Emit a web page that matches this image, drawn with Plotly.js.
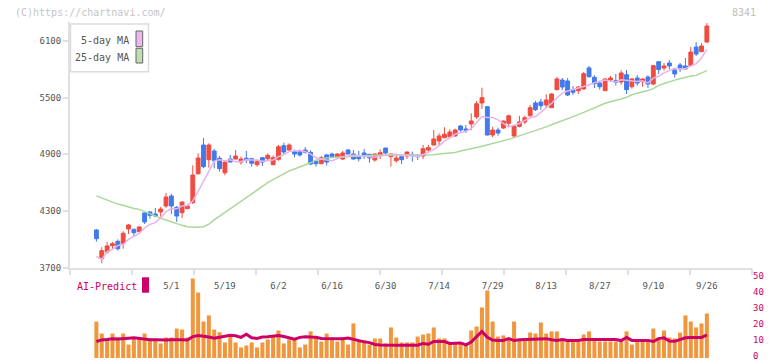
<!DOCTYPE html>
<html><head><meta charset="utf-8">
<script src="https://cdn.plot.ly/plotly-3.0.1.min.js"></script>
<style>html,body{margin:0;padding:0;background:#fff;}#chart{width:772px;height:361px;}</style>
</head><body><div id="chart"></div>
<script>
const dates=['4/10','4/11','4/14','4/15','4/16','4/17','4/18','4/21','4/22','4/23','4/24','4/25','4/28','4/30','5/1','5/2','5/7','5/8','5/9','5/12','5/13','5/14','5/15','5/16','5/19','5/20','5/21','5/22','5/23','5/26','5/27','5/28','5/29','5/30','6/2','6/3','6/4','6/5','6/6','6/9','6/10','6/11','6/12','6/13','6/16','6/17','6/18','6/19','6/20','6/23','6/24','6/25','6/26','6/27','6/30','7/1','7/2','7/3','7/4','7/7','7/8','7/9','7/10','7/11','7/14','7/15','7/16','7/17','7/18','7/22','7/23','7/24','7/25','7/28','7/29','7/30','7/31','8/1','8/4','8/5','8/6','8/7','8/8','8/12','8/13','8/14','8/15','8/18','8/19','8/20','8/21','8/22','8/25','8/26','8/27','8/28','8/29','9/1','9/2','9/3','9/4','9/5','9/8','9/9','9/10','9/11','9/12','9/16','9/17','9/18','9/19','9/22','9/24','9/25','9/26'];
const openP=[4099,3795,3866,3933,3979,3958,4110,4106,4081,4279,4290,4268,4290,4353,4459,4339,4282,4325,4388,4695,4998,4843,4935,4858,4705,4850,4850,4818,4858,4853,4790,4864,4853,4790,4847,4991,4945,4928,4928,4945,4921,4826,4800,4893,4903,4875,4850,4945,4903,4871,4914,4900,4840,4885,4966,4875,4832,4875,4882,4896,4885,4882,4945,4998,5041,5076,5086,5094,5199,5168,5221,5295,5443,5404,5104,5157,5178,5228,5094,5196,5242,5308,5443,5453,5422,5393,5584,5686,5676,5584,5573,5591,5814,5715,5654,5573,5686,5679,5665,5742,5615,5707,5668,5718,5644,5880,5813,5866,5792,5845,5835,5838,6035,5986,6088];
const highP=[4110,3916,3972,3972,4000,4085,4162,4113,4140,4285,4295,4332,4342,4491,4480,4353,4400,4374,4784,4911,5072,5016,4956,4882,4825,4893,4945,4875,4935,4864,4843,4870,4910,4889,4998,5023,5016,4950,4950,4977,4942,4843,4882,4900,4917,4910,4935,4956,4945,4935,4956,4905,4910,4952,4970,4910,4882,4889,4930,4928,4903,4998,4998,5157,5122,5186,5164,5172,5211,5210,5334,5464,5605,5410,5192,5182,5258,5319,5205,5308,5308,5422,5464,5485,5535,5545,5718,5707,5707,5623,5623,5771,5835,5736,5679,5705,5729,5750,5788,5792,5705,5739,5705,5736,5845,5885,5866,5898,5814,5866,5919,6035,6088,6077,6289];
const lowP=[3975,3746,3852,3901,3880,3901,4057,4035,4075,4162,4219,4233,4240,4332,4268,4184,4226,4318,4374,4681,4752,4758,4752,4716,4678,4818,4845,4790,4805,4769,4769,4776,4836,4785,4832,4903,4940,4868,4875,4907,4786,4769,4795,4783,4861,4853,4840,4900,4845,4825,4850,4811,4822,4850,4892,4769,4811,4797,4850,4822,4840,4850,4914,4995,4995,5069,5076,5086,5140,5126,5154,5274,5379,5100,5080,5097,5168,5192,5076,5185,5220,5298,5358,5372,5390,5390,5577,5580,5517,5527,5538,5585,5711,5602,5584,5570,5665,5626,5637,5538,5594,5626,5615,5602,5633,5750,5785,5799,5711,5771,5795,5830,5940,5980,6080];
const closeP=[4007,3880,3930,3954,3901,4064,4152,4070,4131,4184,4254,4247,4321,4448,4353,4247,4395,4353,4681,4861,4769,4998,4832,4748,4818,4818,4882,4850,4840,4805,4822,4818,4889,4864,4980,4924,4998,4903,4893,4921,4797,4800,4864,4818,4875,4903,4914,4903,4850,4853,4882,4861,4903,4917,4914,4903,4861,4843,4924,4886,4875,4959,4970,5062,5094,5112,5136,5157,5157,5154,5252,5435,5499,5104,5157,5126,5252,5308,5199,5242,5287,5393,5372,5414,5475,5538,5697,5612,5527,5556,5612,5753,5721,5647,5615,5697,5707,5662,5760,5584,5697,5654,5697,5644,5838,5796,5835,5835,5750,5803,5803,5982,5961,6046,6257];
const ma5=[3820,3788,3870,3895,3934,3946,4000,4028,4064,4120,4158,4177,4227,4291,4325,4323,4353,4359,4406,4507,4612,4732,4828,4842,4833,4843,4820,4823,4842,4839,4840,4827,4835,4840,4875,4895,4931,4934,4940,4928,4902,4863,4855,4840,4831,4852,4875,4883,4889,4885,4880,4870,4870,4883,4895,4900,4900,4888,4889,4883,4878,4897,4923,4950,4992,5039,5075,5112,5131,5143,5171,5231,5299,5289,5289,5264,5228,5189,5208,5225,5258,5286,5299,5342,5388,5438,5499,5547,5570,5586,5601,5612,5634,5658,5670,5687,5677,5666,5688,5682,5682,5671,5678,5655,5706,5726,5762,5790,5811,5804,5805,5835,5860,5919,6010];
const ma25=[4460,4437,4413,4392,4373,4360,4340,4326,4317,4292,4268,4243,4224,4205,4185,4167,4148,4134,4127,4127,4133,4160,4205,4245,4282,4318,4365,4405,4445,4485,4525,4565,4600,4632,4665,4697,4725,4745,4764,4785,4810,4838,4852,4862,4866,4869,4876,4881,4883,4884,4885,4887,4889,4889,4889,4889,4889,4889,4889,4889,4889,4889,4889,4895,4902,4908,4914,4920,4935,4945,4958,4971,4985,4998,5012,5025,5040,5058,5076,5094,5112,5130,5150,5170,5190,5212,5232,5255,5280,5298,5320,5344,5370,5395,5415,5440,5455,5468,5485,5503,5530,5547,5560,5575,5595,5630,5650,5670,5685,5700,5718,5728,5735,5760,5785];
const volume=[22.8,15.3,12.2,15.3,12.8,15.3,8.4,12.8,12.2,15.3,12.2,12.2,9.1,12.8,12.8,18.4,17.8,12.8,49.7,40.9,22.8,26.6,17.8,16.1,9.7,13.4,9.7,6.6,7.8,9.7,6.6,9.7,11.6,13.4,17.2,9.1,11.6,11.6,6.6,8.4,16.6,13.4,10.3,15.3,12.8,10.3,12.8,8.4,21.6,10.9,10.9,8.4,12.2,12.2,9.1,19.1,12.8,9.7,9.7,9.7,13.4,14.7,15.3,19.1,12.2,12.2,9.1,9.1,9.1,8.4,17.2,19.7,31.6,42.2,22.8,13.4,14.1,12.2,22.8,11.6,11.6,15.9,15.3,22.2,15.3,16.6,16.6,11.6,11.6,10.3,10.3,14.7,16.6,12.2,10.3,10.3,10.3,10.3,10.3,16.6,8.4,11.6,10.3,10.3,18.4,12.8,17.2,12.8,12.2,15.9,26.6,22.8,19.1,21.6,27.8];
const aiPredict=[10.3,11.3,11.6,12.0,11.8,12.3,12.4,12.6,12.1,12.0,11.4,11.4,11.2,11.2,11.4,11.6,11.4,11.2,13.4,14.0,13.7,13.1,12.3,12.9,13.4,14.2,13.9,12.9,14.8,12.6,12.2,13.1,13.3,13.6,14.0,13.4,12.6,11.7,12.9,13.3,13.1,13.0,12.2,12.1,12.1,11.8,12.0,12.5,11.6,10.6,10.1,9.6,8.5,8.2,8.0,8.0,8.0,8.0,8.0,8.0,8.0,9.1,8.6,10.3,10.3,10.3,9.1,9.1,9.4,8.2,10.0,13.4,16.6,13.0,11.2,11.0,11.0,12.1,10.9,11.4,11.6,11.6,11.6,11.8,12.1,11.4,10.9,11.6,10.9,10.9,10.9,11.6,11.6,11.6,11.6,11.6,11.6,11.6,10.9,12.8,11.0,11.0,11.0,11.0,10.3,12.1,12.6,10.6,10.4,11.4,12.6,12.8,12.8,12.8,14.5];
const dateTicks=['5/1','5/19','6/2','6/16','6/30','7/14','7/29','8/13','8/27','9/10','9/26'];
const priceTicks=[3700,4300,4900,5500,6100];
const volTicks=[0,10,20,30,40,50];
const legendNames=['5-day MA','25-day MA'];

const mono='"DejaVu Sans Mono","Liberation Mono",monospace';
const RED='#f04c3e', BLUE='#4179ef', PINK='#e9b3ea', GREEN='#aad89b', ORANGE='#f0963c', CRIMSON='#cc0066', AXIS='#e0e0e0';

const traces=[
  {type:'scatter',mode:'lines',x:dates,y:ma25,line:{color:GREEN,width:1.5},xaxis:'x',yaxis:'y',hoverinfo:'skip'},
  {type:'scatter',mode:'lines',x:dates,y:ma5,line:{color:PINK,width:1.5},xaxis:'x',yaxis:'y',hoverinfo:'skip'},
  {type:'candlestick',x:dates,open:openP,high:highP,low:lowP,close:closeP,xaxis:'x',yaxis:'y',whiskerwidth:0,
   increasing:{line:{color:RED,width:1},fillcolor:RED},decreasing:{line:{color:BLUE,width:1},fillcolor:BLUE}},
  {type:'bar',x:dates,y:volume,marker:{color:ORANGE,line:{width:0}},xaxis:'x',yaxis:'y2'},
  {type:'scatter',mode:'lines',x:dates,y:aiPredict,line:{color:CRIMSON,width:3},xaxis:'x',yaxis:'y2'},
  {type:'scatter',mode:'markers',x:[],y:[],xaxis:'x2',yaxis:'y',hoverinfo:'skip'}
];

function px(x){return (x-70)/682;}
function py(y){return (358-y)/336;}

const layout={
  width:772,height:361,
  margin:{l:70,r:20,t:22,b:3,pad:0},
  paper_bgcolor:'#fff',plot_bgcolor:'rgba(0,0,0,0)',
  showlegend:false,
  font:{family:mono,size:9,color:'#555'},
  boxgap:0.28,boxgroupgap:0,bargap:0.25,
  xaxis:{type:'category',range:[-4.93,122.43],anchor:'y',showline:true,linecolor:AXIS,linewidth:2,
    tickmode:'array',tickvals:dateTicks,ticktext:dateTicks,ticks:'outside',ticklen:9,tickcolor:'rgba(0,0,0,0)',
    showgrid:false,zeroline:false,rangeslider:{visible:false},tickfont:{family:mono,size:9,color:'#555'}},
  xaxis2:{overlaying:'x',anchor:'y',side:'bottom',type:'linear',range:[0,11],autorange:false,tickmode:'linear',tick0:0,dtick:1,ticks:'outside',
    ticklen:6,tickwidth:2,tickcolor:AXIS,showticklabels:false,showgrid:false,zeroline:false,showline:false},
  yaxis:{domain:[0.2688,1],range:[3700,6300],anchor:'x',tickmode:'array',tickvals:priceTicks,ticks:'outside',ticklen:5,
    tickwidth:2,tickcolor:AXIS,showline:true,linecolor:AXIS,linewidth:2,showgrid:false,zeroline:false,
    tickfont:{family:mono,size:9,color:'#555'}},
  yaxis2:{domain:[0,0.2381],range:[0,50],anchor:'x',side:'right',tickmode:'array',tickvals:volTicks,ticks:'',
    ticklabelshift:-2,ticklabeloverflow:'allow',showline:false,showgrid:false,zeroline:false,tickfont:{family:mono,size:9,color:CRIMSON}},
  shapes:[
    {type:'rect',xref:'paper',yref:'paper',x0:px(70.5),x1:px(148.5),y0:py(24),y1:py(71.7),line:{color:'#dcdcdc',width:1.5},fillcolor:'#fff',layer:'above'},
    {type:'rect',xref:'paper',yref:'paper',x0:px(136),x1:px(142.7),y0:py(31),y1:py(46.7),line:{color:'#666',width:1},fillcolor:'#ecb8ec',layer:'above'},
    {type:'rect',xref:'paper',yref:'paper',x0:px(136),x1:px(142.7),y0:py(48.3),y1:py(63),line:{color:'#666',width:1},fillcolor:'#bde0b0',layer:'above'},
    {type:'rect',xref:'paper',yref:'paper',x0:px(142),x1:px(149),y0:py(277.3),y1:py(292.7),line:{width:0},fillcolor:CRIMSON,layer:'above'}
  ],
  annotations:[
    {xref:'paper',yref:'paper',x:px(13),y:py(12.5),xanchor:'left',yanchor:'middle',text:'(C)https://chartnavi.com/',showarrow:false,font:{family:mono,size:10,color:'#c4c4c4'}},
    {xref:'paper',yref:'paper',x:px(758),y:py(12),xanchor:'right',yanchor:'middle',text:'8341',showarrow:false,font:{family:mono,size:10,color:'#c0c0c0'}},
    {xref:'paper',yref:'paper',x:px(130.5),y:py(40.5),xanchor:'right',yanchor:'middle',text:legendNames[0],showarrow:false,font:{family:mono,size:10,color:'#555'}},
    {xref:'paper',yref:'paper',x:px(130.5),y:py(57.5),xanchor:'right',yanchor:'middle',text:legendNames[1],showarrow:false,font:{family:mono,size:10,color:'#555'}},
    {xref:'paper',yref:'paper',x:px(74.5),y:py(286),xanchor:'left',yanchor:'middle',text:'AI-Predict',showarrow:false,font:{family:mono,size:10,color:CRIMSON}}
  ]
};
Plotly.newPlot('chart',traces,layout,{displayModeBar:false,staticPlot:true});
</script>
</body></html>
